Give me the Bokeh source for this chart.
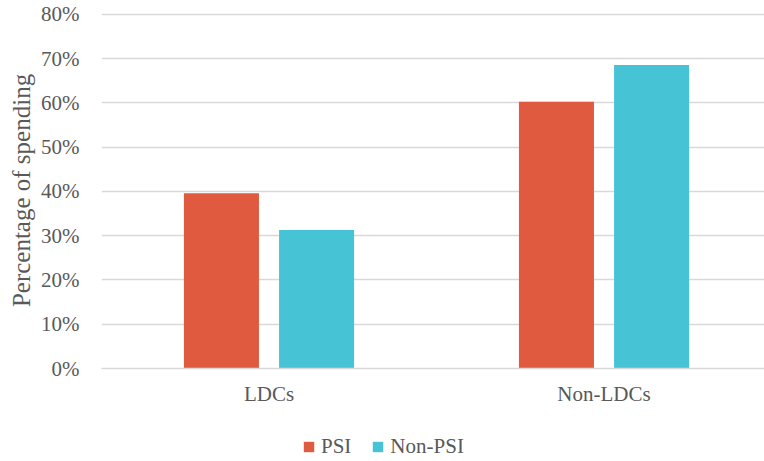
from bokeh.plotting import figure
from bokeh.layouts import column
from bokeh.models import Range1d, FixedTicker, Legend, LegendItem, NumeralTickFormatter, ColumnDataSource
from bokeh.embed import file_html
from bokeh.resources import INLINE

categories = ["LDCs", "Non-LDCs"]
series = ["PSI", "Non-PSI"]
psi = [0.396, 0.603]
non_psi = [0.313, 0.686]
colors = ["#E05A3F", "#46C3D5"]
y_ticks = [0, 0.1, 0.2, 0.3, 0.4, 0.5, 0.6, 0.7, 0.8]

FONT = "Liberation Serif"
TXT = "#595959"
GRID = "#D9D9D9"

p = figure(width=764, height=424, output_backend="svg", toolbar_location=None,
           x_range=Range1d(0, 1.979), y_range=Range1d(0, 0.8045),
           min_border_top=12, min_border_left=101, min_border_right=0, min_border_bottom=56)

offset = 0.142
bw = 0.224
centers = [i + 0.5 for i in range(len(categories))]
src_psi = ColumnDataSource(dict(x=[c - offset for c in centers], top=psi))
src_non = ColumnDataSource(dict(x=[c + offset for c in centers], top=non_psi))
r1 = p.vbar(x="x", top="top", width=bw, bottom=0, source=src_psi, color=colors[0], line_color=None)
r2 = p.vbar(x="x", top="top", width=bw, bottom=0, source=src_non, color=colors[1], line_color=None)

p.xaxis.ticker = FixedTicker(ticks=centers)
p.xaxis.major_label_overrides = {c: n for c, n in zip(centers, categories)}
p.xaxis.major_tick_line_color = None
p.xaxis.minor_tick_line_color = None
p.xaxis.axis_line_color = GRID
p.xaxis.axis_line_width = 1.5
p.xaxis.major_label_standoff = 7
p.xaxis.major_label_text_font = FONT
p.xaxis.major_label_text_font_size = "21px"
p.xaxis.major_label_text_color = TXT

p.yaxis.ticker = FixedTicker(ticks=y_ticks)
p.yaxis.formatter = NumeralTickFormatter(format="0%")
p.yaxis.axis_line_color = None
p.yaxis.major_tick_line_color = None
p.yaxis.minor_tick_line_color = None
p.yaxis.major_label_standoff = 16
p.yaxis.major_label_text_font = FONT
p.yaxis.major_label_text_font_size = "21px"
p.yaxis.major_label_text_color = TXT
p.yaxis.axis_label = "Percentage of spending"
p.yaxis.axis_label_text_font = FONT
p.yaxis.axis_label_text_font_size = "25px"
p.yaxis.axis_label_text_font_style = "normal"
p.yaxis.axis_label_text_color = TXT
p.yaxis.axis_label_standoff = 3

p.xgrid.grid_line_color = None
p.ygrid.grid_line_color = GRID
p.ygrid.grid_line_width = 1.5
p.outline_line_color = None

# legend strip below the chart
lg = figure(width=764, height=37, output_backend="svg", toolbar_location=None,
            x_range=Range1d(0, 1), y_range=Range1d(0, 1),
            min_border_top=0, min_border_left=101, min_border_right=0, min_border_bottom=0)
lg.axis.visible = False
lg.grid.visible = False
lg.outline_line_color = None
hidden = dict(x=[-5.0], top=[0.0])
d1 = lg.vbar(x="x", top="top", width=0.1, source=ColumnDataSource(hidden), color=colors[0], line_color=None)
d2 = lg.vbar(x="x", top="top", width=0.1, source=ColumnDataSource(hidden), color=colors[1], line_color=None)
legend = Legend(items=[LegendItem(label=series[0], renderers=[d1]),
                       LegendItem(label=series[1], renderers=[d2])],
                orientation="horizontal", location=(201, 2),
                label_text_font=FONT, label_text_font_size="21px", label_text_color=TXT,
                glyph_width=13, glyph_height=13, spacing=20, label_standoff=6,
                border_line_color=None, background_fill_alpha=0, margin=0, padding=0)
lg.add_layout(legend, "center")

layout = column(p, lg, spacing=0)
open("out.html", "w").write(file_html(layout, INLINE))
